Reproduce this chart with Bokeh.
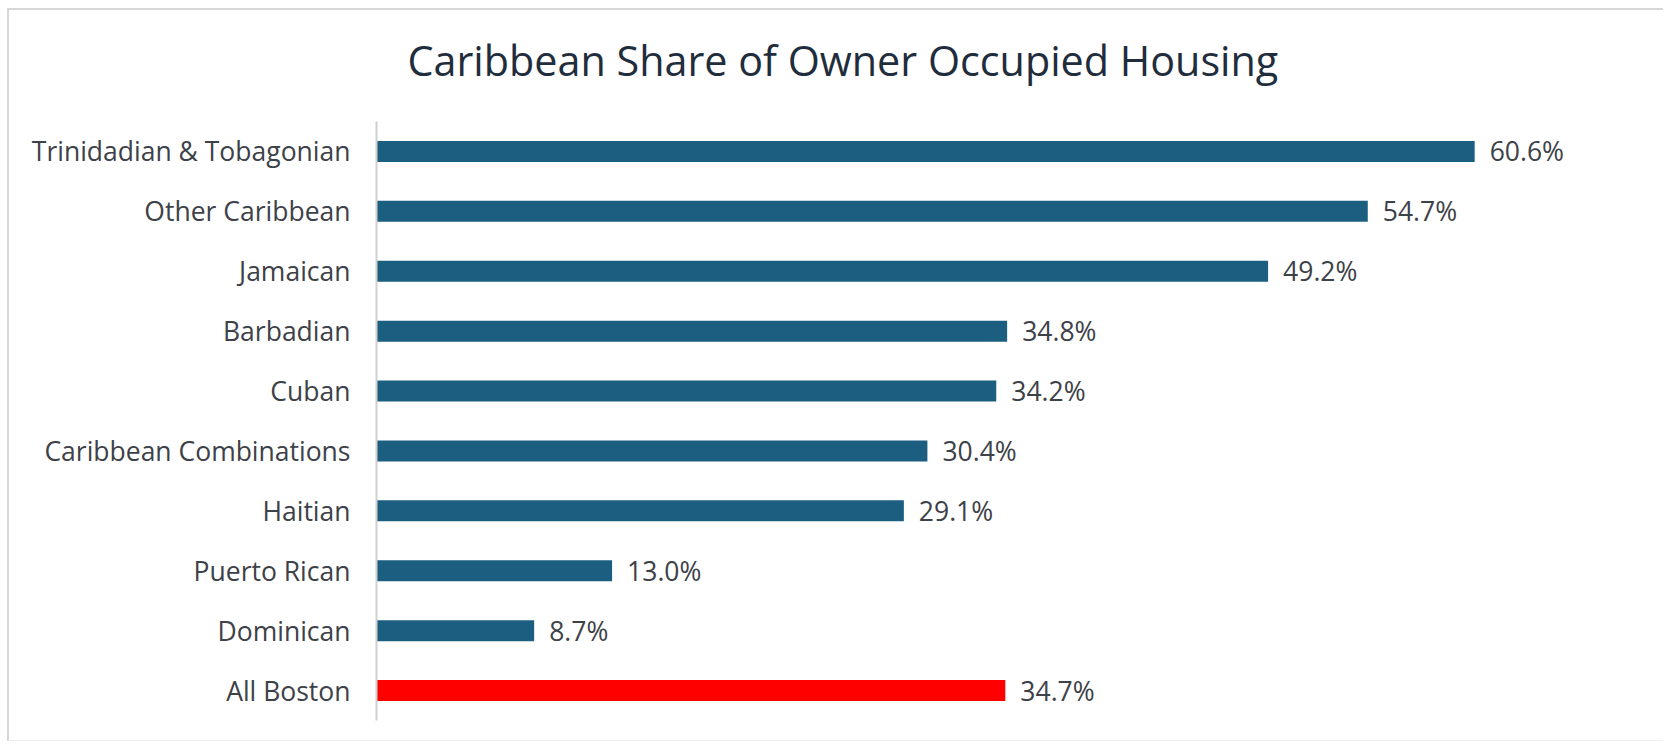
from bokeh.plotting import figure
from bokeh.models import ColumnDataSource, LabelSet, Title
from bokeh.core.properties import value
from bokeh.embed import file_html
from bokeh.resources import INLINE

title_text = "Caribbean Share of Owner Occupied Housing"
categories = ["Trinidadian & Tobagonian", "Other Caribbean", "Jamaican", "Barbadian",
              "Cuban", "Caribbean Combinations", "Haitian", "Puerto Rican",
              "Dominican", "All Boston"]
values = [60.6, 54.7, 49.2, 34.8, 34.2, 30.4, 29.1, 13.0, 8.7, 34.7]
labels = ["60.6%", "54.7%", "49.2%", "34.8%", "34.2%", "30.4%", "29.1%", "13.0%", "8.7%", "34.7%"]
colors = ["#1b5e80"] * 9 + ["#ff0000"]

FONT = "Open Sans"
TXT = "#3d4148"

src = ColumnDataSource(dict(cat=categories, val=values, lab=labels, col=colors))

p = figure(width=1656, height=733, y_range=list(reversed(categories)),
           x_range=(0, 69.75), output_backend="svg", toolbar_location=None,
           min_border_left=367, min_border_right=25, min_border_top=111,
           min_border_bottom=23)

p.hbar(y="cat", right="val", left=0, height=0.35, color="col", source=src, line_color=None)

p.add_layout(LabelSet(x="val", y="cat", text="lab", source=src, x_offset=15,
                      text_baseline="middle", text_font=value(FONT),
                      text_font_size="26.5px", text_color=TXT))

# small blank spacer between frame and title, then the title itself
p.add_layout(Title(text=" ", text_font_size="1px", standoff=9), "above")
p.add_layout(Title(text=title_text, text_font=FONT, text_font_size="41.3px",
                   text_font_style="normal", text_color="#1f2d3d", align="left",
                   vertical_align="top", offset=31, standoff=39), "above")

p.xaxis.visible = False
ya = p.yaxis[0]
ya.axis_line_color = "#d0d0d0"
ya.axis_line_width = 2
ya.major_tick_line_color = None
ya.minor_tick_line_color = None
ya.major_tick_out = 0
ya.major_tick_in = 0
ya.major_label_standoff = 26
ya.major_label_text_font = FONT
ya.major_label_text_font_size = "26.5px"
ya.major_label_text_color = TXT

p.xgrid.grid_line_color = None
p.ygrid.grid_line_color = None
p.outline_line_color = None
p.styles = {"margin-left": "7px", "margin-top": "8px",
            "border-top": "2px solid #d6d6d6", "border-left": "2px solid #d6d6d6",
            "border-bottom": "1px solid #efefef"}

open("out.html", "w").write(file_html(p, INLINE))
